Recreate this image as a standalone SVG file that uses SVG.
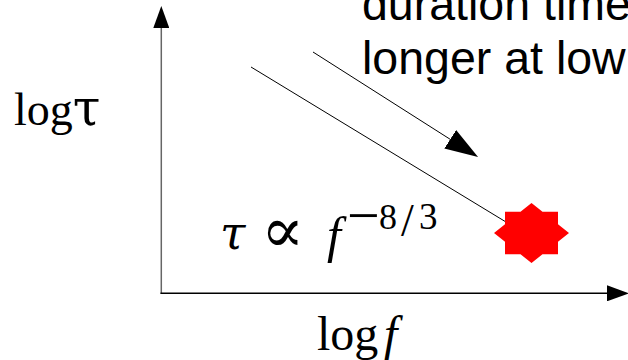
<svg xmlns="http://www.w3.org/2000/svg" width="628" height="360" viewBox="0 0 628 360">
<style>
.serif{font-family:"Liberation Serif","DejaVu Serif",serif;fill:#000}
.dj{font-family:"DejaVu Serif",serif;fill:#000}
.it{font-style:italic}
.sans{font-family:"Liberation Sans",Arial,sans-serif;fill:#000;font-size:46.5px}
.thin{stroke:#000;stroke-width:1;fill:none}
</style>
<defs>
<marker id="axhead" markerUnits="userSpaceOnUse" markerWidth="22" markerHeight="16" refX="0" refY="8" orient="auto"><path d="M0,0 L22,8 L0,16 Z" fill="#000"/></marker>
<marker id="bighead" markerUnits="userSpaceOnUse" markerWidth="33" markerHeight="22" refX="0" refY="11" orient="auto"><path d="M0,0 L33,11 L0,22 Z" fill="#000"/></marker>
</defs>
<rect width="628" height="360" fill="#fff"/>
<g id="connectors">
<line x1="161.3" y1="294" x2="161.3" y2="28" stroke="#666" stroke-width="1.5" marker-end="url(#axhead)"/>
<line x1="160.5" y1="293.3" x2="607" y2="293.3" stroke="#000" stroke-width="1.5" marker-end="url(#axhead)"/>
<line class="thin" x1="251" y1="67" x2="506" y2="222"/>
<line class="thin" x1="313" y1="52" x2="450.2" y2="139.3" marker-end="url(#bighead)"/>
</g>
<g id="star">
<polygon fill="#f00" points="569,233 558,241.8 558,254.2 542.5,254.2 531.5,263 520.5,254.2 505,254.2 505,241.8 494,233 505,224.2 505,211.8 520.5,211.8 531.5,203 542.5,211.8 558,211.8 558,224.2"/>
</g>
<g id="y-label">
<text class="serif" x="14" y="125" font-size="46">log<tspan class="dj" font-size="50">τ</tspan></text>
</g>
<g id="x-label">
<text class="serif" x="317" y="350" font-size="48">log</text>
<text class="serif it" x="384" y="350" font-size="48">f</text>
</g>
<g id="formula">
<text class="dj it" x="220" y="249" font-size="46">τ</text>
<text x="261" y="252" font-size="64" font-family="'DejaVu Sans', 'DejaVu Serif', sans-serif" font-weight="200">∝</text>
<text class="serif it" x="327" y="252" font-size="50">f</text>
<text class="serif" x="347" y="235" font-size="58">−</text>
<text class="serif" x="379" y="229" font-size="36">8</text>
<text class="serif" x="401" y="236" font-size="46">/</text>
<text class="serif" x="419" y="229" font-size="37">3</text>
</g>
<g id="note">
<text class="sans" x="362" y="20">duration time</text>
<text class="sans" x="362" y="74">longer at low</text>
</g>
</svg>
